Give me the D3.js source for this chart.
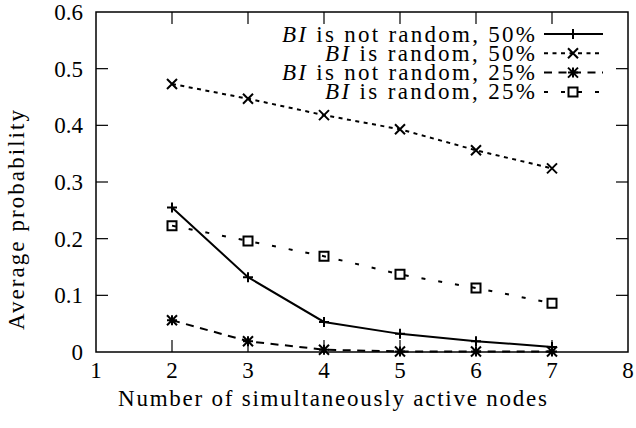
<!DOCTYPE html>
<html><body style="margin:0">
<svg width="636" height="428"></svg>
<script src="https://d3js.org/d3.v7.min.js"></script>
<script>

var nodes = [2, 3, 4, 5, 6, 7];
var notRandom50 = [0.255, 0.132, 0.053, 0.032, 0.019, 0.009];
var random50 = [0.473, 0.447, 0.418, 0.393, 0.356, 0.324];
var notRandom25 = [0.056, 0.019, 0.004, 0.001, 0.001, 0.001];
var random25 = [0.223, 0.196, 0.169, 0.137, 0.113, 0.086];
var labels = ["is not random, 50%", "is random, 50%", "is not random, 25%", "is random, 25%"];
var xTicks = [1, 2, 3, 4, 5, 6, 7, 8];
var yTicks = [0, 0.1, 0.2, 0.3, 0.4, 0.5, 0.6];

var series = [
  {values: notRandom50, label: labels[0], dash: null, marker: "plus", w: 253},
  {values: random50, label: labels[1], dash: "4,4.5", marker: "cross", w: 210},
  {values: notRandom25, label: labels[2], dash: "8,6.5", marker: "star", w: 253},
  {values: random25, label: labels[3], dash: "4,13", marker: "square", w: 210}
];

var svg = d3.select("svg"),
    margin = {top: 12, right: 8, bottom: 76, left: 96},
    width = +svg.attr("width") - margin.left - margin.right,
    height = +svg.attr("height") - margin.top - margin.bottom,
    g = svg.append("g").attr("transform", "translate(" + margin.left + "," + margin.top + ")");

function label(sel) {
  return sel.attr("font-family", "Times New Roman")
      .style("font-family", "Times New Roman")
      .style("font-size", "23px");
}

var x = d3.scaleLinear().domain([1, 8]).range([0, width]);
var y = d3.scaleLinear().domain([0, 0.6]).range([height, 0]);

// ticks inside, mirrored on all sides
var tickLen = 12;
function ticks(data, x1, x2, y1, y2) {
  g.append("g").selectAll("line").data(data).enter().append("line")
      .attr("x1", x1).attr("x2", x2).attr("y1", y1).attr("y2", y2)
      .attr("stroke", "#000").attr("stroke-width", 1.2);
}
var xi = xTicks.slice(1, -1), yi = yTicks.slice(1, -1);
ticks(xi, d => x(d), d => x(d), height, height - tickLen);
ticks(xi, d => x(d), d => x(d), 0, tickLen);
ticks(yi, 0, tickLen, d => y(d), d => y(d));
ticks(yi, width, width - tickLen, d => y(d), d => y(d));

g.append("rect")
    .attr("width", width).attr("height", height)
    .attr("fill", "none").attr("stroke", "#000").attr("stroke-width", 1.5);

g.append("g").selectAll("text").data(xTicks).enter().append("text")
    .attr("x", d => x(d)).attr("y", height + 26)
    .attr("text-anchor", "middle")
    .call(label)
    .text(d => d);

g.append("g").selectAll("text").data(yTicks).enter().append("text")
    .attr("x", -13).attr("y", d => y(d) + 8)
    .attr("text-anchor", "end")
    .call(label)
    .text(d => d === 0 ? "0" : d.toFixed(1));

svg.append("text")
    .attr("x", 118).attr("y", 406)
    .attr("textLength", 429).attr("lengthAdjust", "spacing")
    .call(label)
    .text("Number of simultaneously active nodes");

svg.append("text")
    .attr("transform", "translate(24,330) rotate(-90)")
    .attr("textLength", 220).attr("lengthAdjust", "spacing")
    .call(label)
    .text("Average probability");

var line = d3.line()
    .x(d => x(d[0]))
    .y(d => y(d[1]));

function drawMarker(sel, type, cx, cy) {
  var s = 5;
  var p = sel.append("path")
      .attr("fill", "none").attr("stroke", "#000").attr("stroke-width", 2);
  if (type === "plus") {
    p.attr("d", "M" + (cx - s) + "," + cy + "H" + (cx + s) + "M" + cx + "," + (cy - s) + "V" + (cy + s));
  } else if (type === "cross") {
    p.attr("d", "M" + (cx - s) + "," + (cy - s) + "L" + (cx + s) + "," + (cy + s) +
      "M" + (cx - s) + "," + (cy + s) + "L" + (cx + s) + "," + (cy - s));
  } else if (type === "star") {
    p.attr("d", "M" + (cx - s) + "," + cy + "H" + (cx + s) + "M" + cx + "," + (cy - s) + "V" + (cy + s) +
      "M" + (cx - s) + "," + (cy - s) + "L" + (cx + s) + "," + (cy + s) +
      "M" + (cx - s) + "," + (cy + s) + "L" + (cx + s) + "," + (cy - s));
  } else {
    p.attr("d", "M" + (cx - 4.5) + "," + (cy - 4.5) + "h9v9h-9z");
  }
}

series.forEach(function(s) {
  var pts = nodes.map((n, i) => [n, s.values[i]]);
  g.append("path")
      .datum(pts)
      .attr("fill", "none")
      .attr("stroke", "#000")
      .attr("stroke-width", 2)
      .attr("stroke-dasharray", s.dash)
      .attr("d", line);
  var mg = g.append("g");
  pts.forEach(function(p) { drawMarker(mg, s.marker, x(p[0]), y(p[1])); });
});

// legend
var legend = svg.append("g");
series.forEach(function(s, i) {
  var ly = 34 + i * 19.3;
  var t = legend.append("text")
      .attr("x", 535 - s.w).attr("y", ly + 7.5)
      .attr("textLength", s.w).attr("lengthAdjust", "spacing")
      .call(label);
  t.append("tspan").style("font-style", "italic").text("BI");
  t.append("tspan").text(" " + s.label);
  legend.append("line")
      .attr("x1", 544).attr("x2", 603)
      .attr("y1", ly).attr("y2", ly)
      .attr("stroke", "#000").attr("stroke-width", 2)
      .attr("stroke-dasharray", s.dash);
  drawMarker(legend, s.marker, 573, ly);
});

</script>
</body>
</html>
